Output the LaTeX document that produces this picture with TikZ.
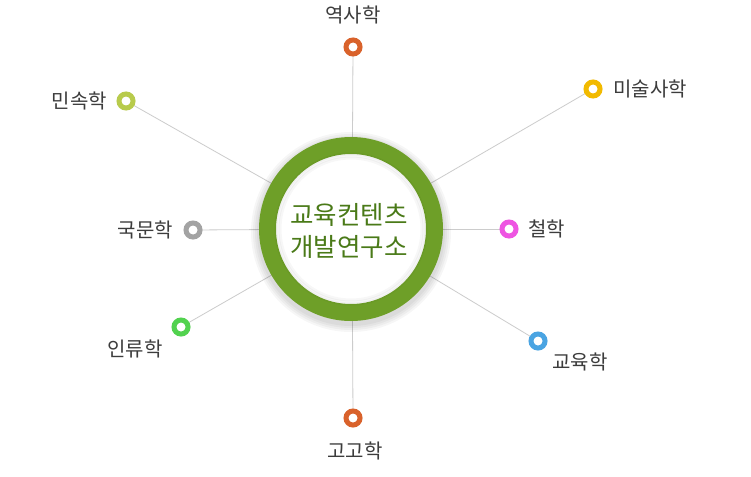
\documentclass[tikz,border=0pt]{standalone}
\usepackage{fontspec}
\setmainfont{Noto Sans CJK KR}
\definecolor{ringgreen}{HTML}{6E9F28}
\definecolor{textgreen}{HTML}{4A7A18}
\definecolor{labelgray}{HTML}{3C3C3C}
\definecolor{linegray}{HTML}{CCCCCC}
\definecolor{cOrange}{HTML}{D9622B}
\definecolor{cLime}{HTML}{B8CB4C}
\definecolor{cYellow}{HTML}{F2BA00}
\definecolor{cPink}{HTML}{EE55E2}
\definecolor{cBlue}{HTML}{4AA4E2}
\definecolor{cGreen}{HTML}{52D24F}
\definecolor{cGray}{HTML}{A3A3A3}
\tikzset{
  dotnode/.style={circle, draw=#1, line width=5pt, fill=white, minimum size=14pt, inner sep=0pt},
  lbl/.style={font=\fontsize{20}{24}\selectfont, text=labelgray, inner sep=0pt},
  spoke/.style={draw=linegray, line width=0.8pt}
}
\begin{document}
\begin{tikzpicture}[x=1pt,y=-1pt]
\useasboundingbox[fill=white] (0,0) rectangle (751,476);
% dot positions
\coordinate (ctr) at (352,229);
\coordinate (pHist) at (353,47);
\coordinate (pFolk) at (126,101);
\coordinate (pArt) at (593,89);
\coordinate (pPhil) at (509,229);
\coordinate (pEdu) at (538,341);
\coordinate (pArch) at (353,418);
\coordinate (pAnth) at (181,327);
\coordinate (pKor) at (193,230);
% spokes
\foreach \d in {pHist,pFolk,pArt,pPhil,pEdu,pArch,pAnth,pKor}
  \draw[spoke] (ctr) -- (\d);
% dots
\node[dotnode=cOrange] (dHist) at (pHist) {};
\node[dotnode=cLime] (dFolk) at (pFolk) {};
\node[dotnode=cYellow] (dArt) at (pArt) {};
\node[dotnode=cPink] (dPhil) at (pPhil) {};
\node[dotnode=cBlue] (dEdu) at (pEdu) {};
\node[dotnode=cOrange] (dArch) at (pArch) {};
\node[dotnode=cGreen] (dAnth) at (pAnth) {};
\node[dotnode=cGray] (dKor) at (pKor) {};
% shadow halo
\foreach \r in {100,98,96,94}
  \fill[black, opacity=0.035] (351,232) circle (\r);
% center ring
\node[circle, draw=ringgreen, line width=17pt, fill=white, minimum size=167pt, inner sep=0pt] (c) at (351,229) {};
\foreach \r in {75,73,71}
  \draw[black, opacity=0.03, line width=3pt] (c.center) circle (\r);
\node[font=\fontsize{25.5}{32}\selectfont, text=textgreen, align=center] (ctext) at (349,231) {교육컨텐츠\\개발연구소};
% labels
\node[lbl] (lHist) at (353,15) {역사학};
\node[lbl, anchor=east] (lFolk) at (107,101) {민속학};
\node[lbl, anchor=west] (lArt) at (613,89) {미술사학};
\node[lbl, anchor=west] (lPhil) at (528,229) {철학};
\node[lbl] (lEdu) at (580,362) {교육학};
\node[lbl] (lArch) at (355,451) {고고학};
\node[lbl] (lAnth) at (135,349) {인류학};
\node[lbl, anchor=east] (lKor) at (173,230) {국문학};
\end{tikzpicture}
\end{document}
